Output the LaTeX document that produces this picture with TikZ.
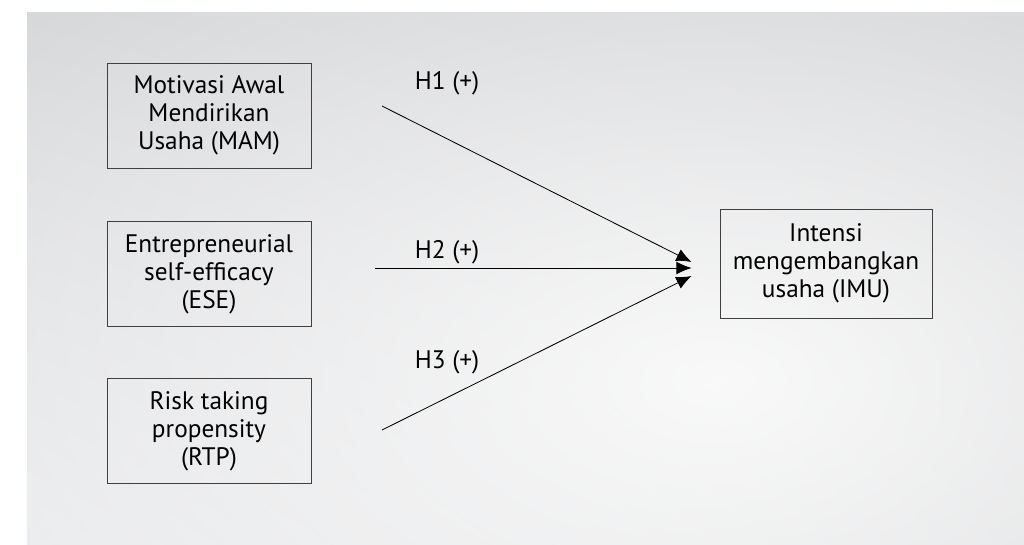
\documentclass[tikz,border=0pt]{standalone}
\usepackage{fontspec}
\setmainfont{PT Sans}
\usetikzlibrary{positioning, arrows.meta, fadings, shadings}

\definecolor{bgul}{RGB}{214,215,217}
\definecolor{bgur}{RGB}{207,208,210}
\definecolor{bgll}{RGB}{232,233,235}
\definecolor{bglr}{RGB}{214,215,217}
\tikzfading[name=glowfade, inner color=transparent!0, outer color=transparent!100]

\begin{document}
\begin{tikzpicture}[
	var/.style={draw=black!75, line width=0.6pt, align=center, inner sep=0pt,
		minimum width=5.1cm, minimum height=2.625cm, font=\fontsize{18}{20}\selectfont},
	hyp/.style={-{Latex[length=3.8mm, width=3.2mm]}, line width=0.6pt},
	lbl/.style={font=\fontsize{18}{20}\selectfont},
	node distance=1.325cm]

	% background
	\useasboundingbox (0,0) rectangle (25.6,-13.625);
	\shade[upper left=bgul, upper right=bgur, lower left=bgll, lower right=bglr]
		(0.675,-0.3) rectangle (25.6,-13.625);
	\fill[white, opacity=0.85, path fading=glowfade] (18,-9.5) ellipse (24 and 14);

	\node[var] (MAM) at (5.225,-2.8875) {Motivasi Awal\\Mendirikan\\Usaha (MAM)};
	\node[var, below=of MAM] (ESE) {Entrepreneurial\\self-efficacy\\(ESE)};
	\node[var, below=1.275cm of ESE] (RTP) {Risk taking\\propensity\\(RTP)};
	\node[var, minimum width=5.3cm, minimum height=2.725cm] (IMU) at (20.65,-6.5875)
		{Intensi\\mengembangkan\\usaha (IMU)};

	\coordinate (h1) at (9.55,-2.65);
	\coordinate (h2) at (9.375,-6.7);
	\coordinate (h3) at (9.55,-10.75);
	\coordinate (t1) at ([xshift=-0.7cm, yshift=0.0375cm]IMU.west);
	\coordinate (t2) at ([xshift=-0.7cm, yshift=-0.1125cm]IMU.west);
	\coordinate (t3) at ([xshift=-0.7cm, yshift=-0.3125cm]IMU.west);

	\draw[hyp] (h1) -- (t1);
	\draw[hyp] (h2) -- (t2);
	\draw[hyp] (h3) -- (t3);

	\node[lbl] (H1) at (11.175,-2.075) {H1 (+)};
	\node[lbl] (H2) at (11.175,-6.3) {H2 (+)};
	\node[lbl] (H3) at (11.175,-9.05) {H3 (+)};

\end{tikzpicture}
\end{document}
